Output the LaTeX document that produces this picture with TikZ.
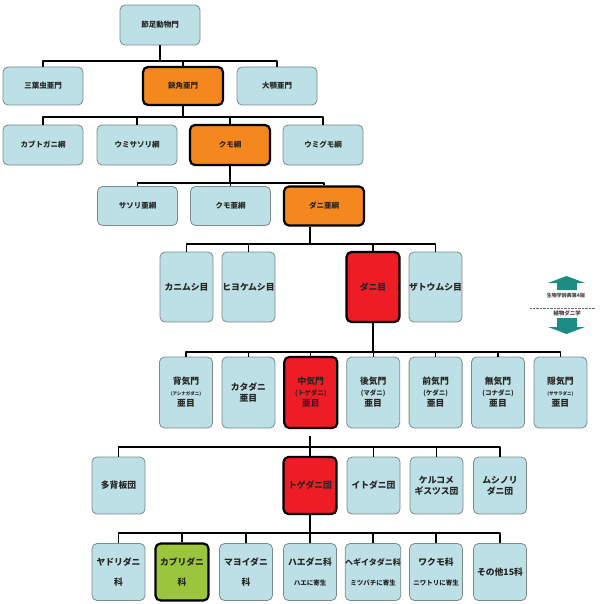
\documentclass[tikz,border=0pt]{standalone}
\usepackage{fontspec}
\setmainfont{Noto Sans CJK JP}
\definecolor{boxblue}{HTML}{BDE0E6}
\definecolor{boxedge}{HTML}{7D8A8C}
\definecolor{keyorange}{HTML}{F5871F}
\definecolor{keyred}{HTML}{EE1C24}
\definecolor{keygreen}{HTML}{9BC53D}
\definecolor{arrowteal}{HTML}{1C8C84}
\newcommand{\subnote}[1]{{\fontsize{4.5}{5.5}\selectfont #1}}
\newcommand{\hostnote}[1]{{\fontsize{6.5}{7.5}\selectfont #1}}

\begin{document}
\begin{tikzpicture}[x=1pt, y=-1pt, line cap=round, line join=round,
  taxon/.style={draw=boxedge, line width=0.8pt, fill=boxblue, rounded corners=5pt,
    inner sep=0pt, align=center, text=black!85,
    font=\bfseries\fontsize{7.5}{9}\selectfont},
  keytaxon/.style={taxon, draw=black, line width=2.2pt},
  widebox/.style={minimum width=80pt, minimum height=39pt},
  tallbox/.style={minimum width=53pt, minimum height=70pt, font=\bfseries\fontsize{8.8}{11}\selectfont},
  lowbox/.style={minimum width=53pt, minimum height=57pt, font=\bfseries\fontsize{8.8}{11}\selectfont},
  conn/.style={line width=1.3pt, line cap=butt}]

  %% ════ 門・亜門・綱・亜綱 ════
  \node[taxon, widebox, minimum height=40pt] (arthropoda) at (160,25) {節足動物門};
  \node[taxon, widebox, minimum height=38pt] (trilobita) at (43,86) {三葉虫亜門};
  \node[keytaxon, widebox, minimum height=38pt, fill=keyorange] (chelicerata) at (183,86) {鋏角亜門};
  \node[taxon, widebox, minimum height=38pt] (mandibulata) at (277,86) {大顎亜門};

  \node[taxon, widebox, minimum height=40pt] (xiphosura) at (43,145) {カブトガニ綱};
  \node[taxon, widebox, minimum height=40pt] (eurypterida) at (137,145) {ウミサソリ綱};
  \node[keytaxon, widebox, minimum height=40pt, fill=keyorange] (arachnida) at (230,145) {クモ綱};
  \node[taxon, widebox, minimum height=40pt] (pycnogonida) at (323,145) {ウミグモ綱};

  \node[taxon, widebox] (scorpsub) at (137.5,206) {サソリ亜綱};
  \node[taxon, widebox] (aransub) at (230.5,206) {クモ亜綱};
  \node[keytaxon, widebox, fill=keyorange] (acarisub) at (324,206) {ダニ亜綱};

  %% ════ 目 ════
  \node[taxon, tallbox] (pseudoscorp) at (186.5,287) {カニムシ目};
  \node[taxon, tallbox] (solifugae) at (248.5,287) {ヒヨケムシ目};
  \node[keytaxon, tallbox, fill=keyred] (acari) at (373,287) {ダニ目};
  \node[taxon, tallbox] (opiliones) at (435.5,287) {ザトウムシ目};

  %% ════ 亜目 ════
  \node[taxon, tallbox, minimum height=71pt] (notost) at (186,392.5) {背気門\\\subnote{(アシナガダニ)}\\亜目};
  \node[taxon, tallbox, minimum height=71pt] (tetrast) at (248.4,392.5) {カタダニ\\亜目};
  \node[keytaxon, tallbox, minimum height=71pt, fill=keyred] (mesost) at (310.8,392.5) {中気門\\\hostnote{(トゲダニ)}\\亜目};
  \node[taxon, tallbox, minimum height=71pt] (metast) at (373.2,392.5) {後気門\\\hostnote{(マダニ)}\\亜目};
  \node[taxon, tallbox, minimum height=71pt] (prost) at (435.6,392.5) {前気門\\\hostnote{(ケダニ)}\\亜目};
  \node[taxon, tallbox, minimum height=71pt] (ast) at (498,392.5) {無気門\\\hostnote{(コナダニ)}\\亜目};
  \node[taxon, tallbox, minimum height=71pt] (cryptost) at (560.4,392.5) {隠気門\\\subnote{(ササラダニ)}\\亜目};

  %% ════ 団 ════
  \node[taxon, lowbox] (polyaspid) at (118.5,485.5) {多背板団};
  \node[keytaxon, lowbox, fill=keyred] (gamasina) at (310,485.5) {トゲダニ団};
  \node[taxon, lowbox] (dermanyss) at (373.5,485.5) {イトダニ団};
  \node[taxon, lowbox] (cercomeg) at (436.5,485.5) {ケルコメ\\ギスツス団};
  \node[taxon, lowbox] (antennoph) at (500,485.5) {ムシノリ\\ダニ団};

  %% ════ 科 ════
  \node[taxon, lowbox] (parasitid) at (118.5,572) {ヤドリダニ\\[9pt]科};
  \node[keytaxon, lowbox, fill=keygreen] (phytoseiid) at (182,572) {カブリダニ\\[9pt]科};
  \node[taxon, lowbox] (ascid) at (246,572) {マヨイダニ\\[9pt]科};
  \node[taxon, lowbox] (macrochel) at (310,572) {ハエダニ科\\[9pt]\hostnote{ハエに寄生}};
  \node[taxon, lowbox] (varroid) at (373,572) {\fontsize{8}{10}\selectfont ヘギイタダニ科\\[9pt]\hostnote{ミツバチに寄生}};
  \node[taxon, lowbox] (dermanyssid) at (436,572) {ワクモ科\\[9pt]\hostnote{ニワトリに寄生}};
  \node[taxon, lowbox] (others) at (500,572) {その他15科};

  %% ════ 連結線 ════
  \coordinate (bus1) at (160,61);
  \draw[conn] (arthropoda.south) -- (bus1);
  \foreach \c in {trilobita, chelicerata, mandibulata} \draw[conn] (bus1) -| (\c.north);

  \coordinate (bus2) at (183,117);
  \draw[conn] (chelicerata.south) -- (bus2);
  \foreach \c in {xiphosura, eurypterida, arachnida, pycnogonida} \draw[conn] (bus2) -| (\c.north);

  \coordinate (bus3) at (230,183);
  \draw[conn] (arachnida.south) -- (bus3);
  \foreach \c in {scorpsub, aransub, acarisub} \draw[conn] (bus3) -| (\c.north);

  \coordinate (bus4) at (310,244);
  \draw[conn] (bus4 |- acarisub.south) -- (bus4);
  \foreach \c in {pseudoscorp, solifugae, acari, opiliones} \draw[conn] (bus4) -| (\c.north);

  \coordinate (bus5) at (373,352);
  \draw[conn] (acari.south) -- (bus5);
  \foreach \c in {notost, tetrast, mesost, metast, prost, ast, cryptost} \draw[conn] (bus5) -| (\c.north);

  \coordinate (stub6) at (310,436);
  \coordinate (bus6) at (310,447);
  \draw[conn] (stub6) -- (bus6);
  \foreach \c in {polyaspid, gamasina, dermanyss, cercomeg, antennoph} \draw[conn] (bus6) -| (\c.north);

  \coordinate (bus7) at (310,533);
  \draw[conn] (gamasina.south) -- (bus7);
  \foreach \c in {parasitid, phytoseiid, ascid, macrochel, varroid, dermanyssid, others} \draw[conn] (bus7) -| (\c.north);

  %% ════ 凡例（右の矢印）════
  \fill[arrowteal] (557,290) -- (557,283) -- (548,283) -- (566.5,276) -- (585,283) -- (577,283) -- (577,290) -- cycle;
  \node[font=\bfseries\fontsize{5}{6}\selectfont, text=black!75, inner sep=0pt] (legtop) at (566,296) {生物学辞典第4版};
  \coordinate (legl) at (530,308);
  \coordinate (legr) at (595,308);
  \draw[black!60, line width=0.8pt, dash pattern=on 0.7pt off 0.7pt, line cap=butt] (legl) -- (legr);
  \node[font=\bfseries\fontsize{5.5}{6.5}\selectfont, text=black!75, inner sep=0pt] (legbot) at (567,313) {植物ダニ学};
  \fill[arrowteal] (557,318) -- (577,318) -- (577,327) -- (585,327) -- (566.5,334) -- (548,327) -- (557,327) -- cycle;

  \pgfresetboundingbox
  \path[use as bounding box] (0,0) rectangle (599,604);
\end{tikzpicture}
\end{document}
